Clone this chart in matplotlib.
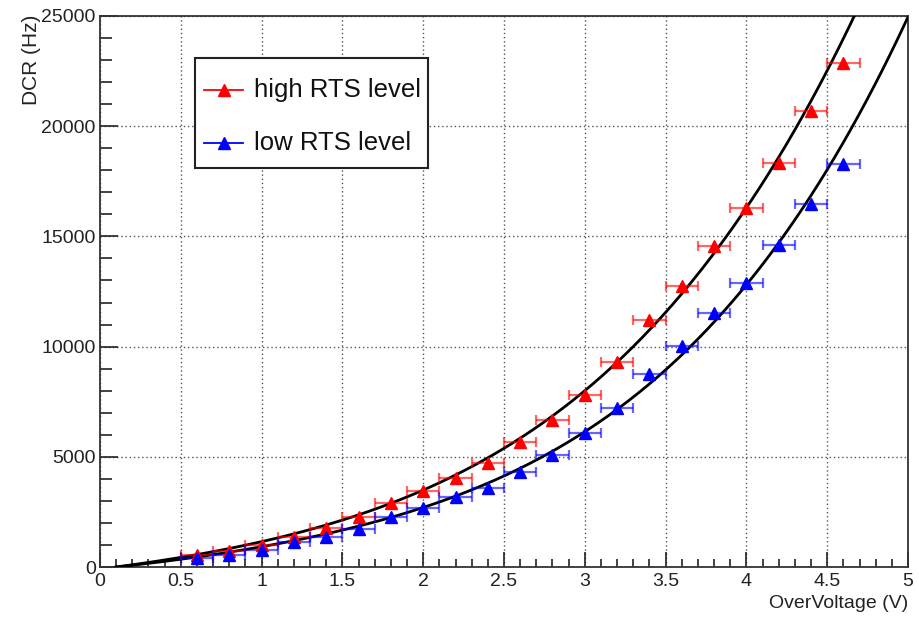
import matplotlib
matplotlib.use("Agg")
import matplotlib.pyplot as plt
import numpy as np
from matplotlib.lines import Line2D
from matplotlib.patches import Rectangle
from matplotlib.ticker import MultipleLocator, FormatStrFormatter

plt.rcParams["font.family"] = ["Liberation Sans", "DejaVu Sans"]

# Datos
overvoltage = [0.6, 0.8, 1.0, 1.2, 1.4, 1.6, 1.8, 2.0, 2.2, 2.4, 2.6,
               2.8, 3.0, 3.2, 3.4, 3.6, 3.8, 4.0, 4.2, 4.4, 4.6]
overvoltage_err = 0.1
dcr_high = [550, 740, 1000, 1360, 1770, 2270, 2900, 3470, 4040, 4720, 5680,
            6670, 7820, 9300, 11200, 12730, 14560, 16310, 18330, 20700, 22860]
dcr_low = [410, 545, 770, 1130, 1360, 1720, 2270, 2680, 3180, 3580, 4310,
           5080, 6080, 7210, 8760, 10030, 11520, 12880, 14590, 16490, 18270]
series_labels = ["high RTS level", "low RTS level"]
series_colors = ["#ff0000", "#0000ff"]

# Parametros del ajuste: f(t) = p1*t + p2*t^2 + p3*t^3 + p4*t^4, t = V - v0
fit_v0 = 0.1
fit_high = [972.3, 274.2, 52.0, 22.7]
fit_low = [774.2, 266.4, -15.85, 28.85]


def ajuste(v, coefs):
    t = v - fit_v0
    return sum(c * t ** (i + 1) for i, c in enumerate(coefs))


fig = plt.figure(figsize=(9.2, 6.19), dpi=100)
ax = fig.add_axes([100 / 920, 52 / 619, 808 / 920, 551 / 619])

# Curvas de ajuste
v = np.linspace(fit_v0, 5.0, 400)
ax.plot(v, ajuste(v, fit_high), color="black", lw=2.0, zorder=3)
ax.plot(v, ajuste(v, fit_low), color="black", lw=2.0, zorder=3)

# Puntos con barras de error en x
for y, col in zip([dcr_high, dcr_low], series_colors):
    ax.errorbar(overvoltage, y, xerr=overvoltage_err, fmt="none",
                ecolor=col, elinewidth=1.6, capsize=3.5, capthick=1.6,
                alpha=0.6, zorder=4)
    ax.plot(overvoltage, y, "^", color=col, ms=9, mec=col, zorder=5)

ax.set_xlim(0, 5)
ax.set_ylim(0, 25000)
ax.xaxis.set_major_locator(MultipleLocator(0.5))
ax.xaxis.set_minor_locator(MultipleLocator(0.1))
ax.xaxis.set_major_formatter(FormatStrFormatter("%g"))
ax.yaxis.set_major_locator(MultipleLocator(5000))
ax.yaxis.set_minor_locator(MultipleLocator(1000))
ax.tick_params(axis="both", which="both", direction="in", labelsize=14,
               width=1.2, colors="#222222")
ax.tick_params(axis="x", which="major", length=11, pad=4)
ax.tick_params(axis="x", which="minor", length=5.5)
ax.tick_params(axis="y", which="major", length=13, pad=3)
ax.tick_params(axis="y", which="minor", length=8.5)
ax.grid(True, which="major", color="#555555", lw=1.0, linestyle=(0, (1, 2)))
for s in ax.spines.values():
    s.set_linewidth(1.3)
    s.set_color("#333333")

fig.text(32 / 920, 1 - 15 / 619, "DCR (Hz)", rotation=90, ha="center",
         va="top", fontsize=15, color="#222222")
fig.text(908 / 920, 1 - 604 / 619, "OverVoltage (V)", ha="right",
         va="center", fontsize=14, color="#222222")

# Leyenda dibujada a mano (estilo ROOT)
ax.add_patch(Rectangle((0.1176, 0.7241), 0.2884, 0.1997, transform=ax.transAxes,
                       facecolor="white", edgecolor="#222222", lw=1.5,
                       zorder=10))
for fila, (lab, col) in enumerate(zip(series_labels, series_colors)):
    yy = 0.8657 - fila * 0.0962
    ax.add_line(Line2D([0.1287, 0.177], [yy, yy], color=col, lw=1.3,
                       transform=ax.transAxes, zorder=11))
    ax.add_line(Line2D([0.1535], [yy], color=col, marker="^", ms=9,
                       transform=ax.transAxes, zorder=11))
    ax.text(0.1906, yy, lab, transform=ax.transAxes, fontsize=18.5,
            va="center", ha="left", color="#111111", zorder=11)

fig.savefig("out.png", dpi=100)
